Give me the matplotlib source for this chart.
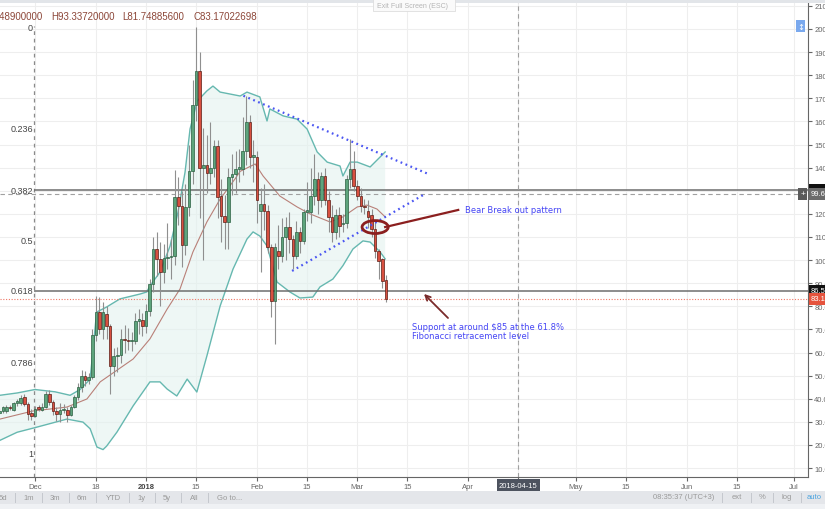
import datetime as dt
import matplotlib
matplotlib.use("Agg")
import matplotlib.pyplot as plt
import matplotlib.dates as mdates
from matplotlib.patches import Ellipse, Rectangle
import numpy as np
import pandas as pd

plt.rcParams['font.family'] = ['Liberation Sans', 'DejaVu Sans']

# daily candles, 2017-11-21 .. 2018-03-09
first_day = "2017-11-21"
opens = [34.0, 34.5, 34.6, 36.5, 35.1, 38.0, 38.1, 40.6, 37.7, 33.7,
         32.6, 36.3, 35.3, 36.3, 42.0, 38.4, 34.8, 33.4, 35.3, 35.3,
         33.1, 36.6, 40.6, 44.9, 50.0, 48.2, 49.2, 67.6, 77.4, 70.2,
         76.7, 71.6, 54.0, 58.6, 58.9, 65.8, 65.5, 65.0, 65.1, 73.8, 74.0,
         71.6, 78.1, 89.6, 104.8, 100.4, 94.7, 100.7, 101.5, 101.6, 127.1,
         123.5, 106.5, 122.8, 138.4, 167.2, 181.9, 139.8, 141.3, 137.7, 139.7,
         149.5, 127.8, 118.9, 116.3, 135.8, 137.3, 139.5, 139.5, 147.4, 159.6, 144.5,
         144.5, 121.4, 124.3, 121.4, 105.6, 82.5, 104.0, 101.9, 109.9, 114.2,
         109.2, 101.9, 112.0, 108.4, 120.7, 120.7, 127.9, 135.1, 125.8, 136.6,
         125.8, 118.5, 112.0, 119.3, 115.5, 116.2, 135.1, 139.5,
         132.2, 127.9, 123.6, 121.4, 119.3, 113.5, 104.1, 100.5, 91.49]
highs = [35.8, 37.0, 37.2, 37.5, 38.8, 40.0, 41.6, 42.0, 38.6, 35.5,
         36.8, 37.2, 38.0, 43.5, 44.0, 39.5, 36.5, 38.0, 37.8, 36.5,
         37.5, 41.5, 47.0, 52.5, 52.0, 51.0, 70.0, 84.5, 84.0, 82.0,
         80.0, 72.5, 62.0, 62.5, 70.0, 72.0, 70.5, 69.0, 77.0, 79.0, 77.0,
         81.0, 92.0, 110.0, 112.0, 108.0, 107.0, 116.0, 109.0, 139.0, 136.0,
         130.0, 133.0, 150.0, 178.0, 200.7, 189.9, 157.0, 154.0, 159.6, 152.0,
         152.0, 135.0, 128.0, 140.0, 146.0, 147.0, 148.0, 162.0, 171.0, 163.0, 152.0,
         147.0, 131.0, 133.0, 124.0, 107.0, 107.5, 115.0, 118.0, 118.5, 121.0,
         111.0, 117.0, 114.5, 122.0, 134.0, 140.0, 146.0, 138.0, 138.0, 140.0,
         130.0, 124.0, 122.0, 123.0, 120.0, 137.0, 152.4, 147.0,
         134.5, 131.0, 126.5, 126.0, 122.0, 117.0, 105.0, 101.0, 93.34]
lows = [33.2, 33.8, 34.0, 35.2, 34.6, 37.0, 37.5, 36.8, 31.0, 30.8,
        32.0, 34.5, 34.6, 35.8, 37.5, 33.0, 30.5, 30.0, 33.8, 30.0,
        32.5, 35.8, 39.5, 43.0, 45.5, 46.5, 48.5, 65.0, 68.0, 66.0,
        66.0, 42.0, 50.0, 51.5, 55.5, 60.0, 61.0, 60.5, 63.5, 68.0, 67.0,
        68.5, 76.0, 86.0, 93.0, 80.0, 90.0, 96.0, 92.0, 98.0, 115.0,
        97.0, 102.0, 119.0, 133.0, 160.0, 118.0, 100.0, 129.0, 133.0, 136.0,
        118.0, 108.0, 105.0, 105.0, 128.0, 129.0, 134.0, 137.0, 141.0, 140.0, 134.0,
        116.0, 95.0, 113.0, 103.0, 75.3, 63.7, 96.0, 99.0, 100.0, 103.0,
        96.0, 100.5, 103.0, 107.0, 117.0, 116.0, 124.0, 120.0, 123.0, 124.0,
        112.0, 108.0, 109.0, 110.0, 112.0, 114.0, 131.0, 130.0,
        126.0, 121.0, 120.0, 114.0, 110.0, 101.0, 92.0, 88.0, 81.75]
closes = [34.9, 36.3, 36.5, 36.0, 38.1, 39.0, 40.2, 37.7, 33.4, 32.6,
          35.4, 35.5, 36.6, 42.0, 38.7, 34.8, 33.4, 35.3, 35.6, 33.1,
          36.6, 40.6, 44.9, 50.0, 48.2, 49.2, 67.6, 77.4, 70.2, 77.4,
          71.6, 54.3, 58.6, 58.9, 65.8, 65.5, 65.0, 65.6, 73.8, 74.3, 71.6,
          78.1, 89.6, 104.8, 100.4, 94.7, 100.7, 101.5, 101.6, 127.1, 123.5,
          106.5, 122.8, 138.4, 167.2, 181.9, 139.8, 141.3, 137.7, 139.7, 149.5,
          127.1, 119.2, 116.3, 135.8, 137.2, 139.5, 140.2, 147.4, 159.6, 144.5, 145.5,
          125.8, 124.3, 121.4, 105.6, 82.5, 105.6, 101.9, 109.9, 114.2, 109.2,
          101.9, 112.0, 108.4, 120.7, 121.5, 127.9, 135.1, 125.8, 136.6, 125.8,
          118.5, 112.0, 119.3, 114.9, 116.2, 135.1, 139.5, 132.2,
          127.9, 123.6, 122.8, 118.5, 113.5, 104.1, 99.8, 91.1, 83.17]

# Bollinger bands (20, 2), days after 2017-12-01
band_base = "2017-12-01"
upper_days = [-9.8, -5, 0, 5.6, 9.8, 12.6, 15.4, 16.3, 17.2, 20, 23.7, 29.3, 31.2, 32.1,
              34.9, 37.7, 39.9, 41.9, 43.3, 45.3, 48, 49.7, 51.7, 57.3, 59.2, 62.8,
              64.8, 65.6, 69.3, 73.2, 76, 78.8, 81.6, 85.2, 86, 88, 90, 93.6, 97.8]
upper_vals = [41.5, 42.5, 44, 43, 41.5, 44, 48.5, 62.8, 77.5, 79.7, 83.2, 85.3, 86.2, 88.8,
              94.8, 106, 120.5, 138, 156.7, 168.8, 173.2, 175.3, 172.7, 171, 172.7, 170.6,
              160.2, 165.4, 162.4, 161, 156.7, 146.8, 142.4, 140.7, 136.4, 142.4, 142.4, 140.3, 146.8]
lower_days = [-9.8, -5, 0, 8.9, 13.4, 15.4, 17.3, 19, 20, 22.9, 27.4, 32.1, 34.9, 36.9,
              39.6, 42.5, 45.2, 48, 51.7, 55.3, 59.2, 60.9, 62.8, 64.8, 67.6, 71.2, 74,
              77.6, 79.6, 83.2, 86, 88.8, 91.6, 93.6, 96.4, 97.8]
lower_vals = [22, 25.5, 27.5, 31.2, 29.9, 27, 19.1, 18, 19.5, 25.6, 36.9, 47.3, 47.3, 44.2,
              41.2, 48.5, 42.9, 58.5, 80.1, 96.1, 109.1, 112.2, 110.4, 106.1, 90.5, 86.2, 83.6,
              84, 88.4, 91.8, 97.6, 104.8, 108.3, 107.8, 103.5, 100.5]
mid_days = [-9.8, -0.6, 8.9, 14.5, 18.2, 27.4, 32.1, 36.9, 40.5, 44.1, 48, 51.7, 55.8,
            57.3, 61.5, 63.7, 68.4, 73.2, 76.8, 82.4, 86, 90, 92.7, 95.5, 97.8]
mid_vals = [31.2, 34.7, 36.4, 39.9, 47.3, 57.2, 65.9, 78.8, 87.5, 103.5, 116.5, 126.4, 135,
            138.4, 141.6, 136.4, 127.7, 123, 120, 116.5, 118.7, 123, 123.8, 122.1, 118.7]

# fibonacci retracement drawn from the Dec 1 low side to the Jan 15 high
fib_high = 200.7
fib_low = 16.2
fib_levels = [0, 0.236, 0.382, 0.5, 0.618, 0.786, 1]
fib_lines = [0.382, 0.618]

# triangle trendlines (day offset, price)
tri_upper = [(58.2, 171.1), (109.8, 137.3)]
tri_lower = [(71.8, 95.3), (108.9, 128.6)]

tick_dates = ["2017-12-01", "2017-12-18", "2018-01-01", "2018-01-15", "2018-02-01",
              "2018-02-15", "2018-03-01", "2018-03-15", "2018-04-01", "2018-04-15",
              "2018-05-01", "2018-05-15", "2018-06-01", "2018-06-15", "2018-07-01"]
tick_labels = ["Dec", "18", "2018", "15", "Feb", "15", "Mar", "15", "Apr", "",
               "May", "15", "Jun", "15", "Jul"]
price_ticks = list(range(10, 220, 10))

W, H = 825, 510
fig = plt.figure(figsize=(W / 100, H / 100), dpi=100)
fig.patch.set_facecolor('white')
ax = fig.add_axes([0, 1 - 478 / H, 808 / W, 478 / H])

base = mdates.date2num(pd.Timestamp(band_base))
dates = pd.date_range(first_day, periods=len(opens), freq="D")
x = mdates.date2num(dates)
o, h, l, c = map(np.array, (opens, highs, lows, closes))

ax.set_xlim(base - 9.78, base + 215.9)
ax.set_ylim(6.14, 212.98)

# grid
tx = mdates.date2num(pd.to_datetime(tick_dates))
for t in tx:
    ax.axvline(t, color='#eeeeee', lw=0.8, zorder=0)
for p in price_ticks:
    ax.axhline(p, color='#eeeeee', lw=0.8, zorder=0)

# bands
ux = base + np.array(upper_days)
lx = base + np.array(lower_days)
ax.fill(np.r_[ux, lx[::-1]], np.r_[upper_vals, lower_vals[::-1]],
        color='#e3f2ef', alpha=0.6, lw=0, zorder=1)
ax.plot(ux, upper_vals, color='#66b8b0', lw=1.0, zorder=2)
ax.plot(lx, lower_vals, color='#66b8b0', lw=1.0, zorder=2)
ax.plot(base + np.array(mid_days), mid_vals, color='#b98078', lw=0.8, zorder=2)

# fib
fib_start = base - 0.3
ax.vlines(fib_start, 6.14, 201.5, colors='#8a8a8a', lw=0.9, linestyles=(0, (3, 3)), zorder=2)
rng = fib_high - fib_low
for lv in fib_levels:
    val = fib_high - lv * rng
    txt = "0" if lv == 0 else ("1" if lv == 1 else f"{lv:g}")
    ax.text(base - 0.6, val, txt, ha='right', va='center', fontsize=6.5, color='#444444', zorder=6)
    if lv in fib_lines:
        ax.hlines(val, fib_start, ax.get_xlim()[1], colors='#6e6e6e', lw=1.1, zorder=2)

# crosshair + last price line
ax.axhline(128.6, color='#a0a0a0', lw=0.8, ls=(0, (4, 3)), zorder=2)
ax.axvline(mdates.date2num(pd.Timestamp("2018-04-15")), color='#a0a0a0', lw=0.8,
           ls=(0, (4, 3)), zorder=2)
ax.axhline(c[-1], color='#ee7766', lw=0.8, ls=(0, (1, 1.5)), zorder=2)

# candles
up = c >= o
ax.vlines(x, l, h, colors='#8f8f8f', lw=0.8, zorder=3)
ax.bar(x[up], (c - o)[up], bottom=o[up], width=0.72, color='#5da47c',
       edgecolor='#2b5f41', lw=0.5, zorder=4)
ax.bar(x[~up], (c - o)[~up], bottom=o[~up], width=0.72, color='#d85040',
       edgecolor='#5b1d15', lw=0.5, zorder=4)

# triangle
for seg in (tri_upper, tri_lower):
    ax.plot([base + seg[0][0], base + seg[1][0]], [seg[0][1], seg[1][1]],
            color='#4a55f2', lw=1.6, ls=(0, (0.8, 1.6)), zorder=5)

# annotations
red = '#8b1f1f'
ax.add_patch(Ellipse((base + 95, 114.3), 7.3, 5.6, fill=False, ec=red, lw=2.0, zorder=6))
ax.plot([base + 118.2, base + 97.8], [121.7, 114.3], color=red, lw=1.6, zorder=6)
ax.text(base + 120.1, 122.1, "Bear Break out pattern", family='DejaVu Sans', fontsize=6,
        color='#4646f5', va='center', ha='left', zorder=6)
ax.annotate("", xy=(base + 108.1, 86.2), xytext=(base + 115.9, 74.1),
            arrowprops=dict(arrowstyle='->', color='#7a2a2a', lw=1.3,
                            mutation_scale=9), zorder=6)
ax.text(base + 105.3, 73.2, "Support at around $85 at the 61.8%\nFibonacci retracement level",
        family='DejaVu Sans', fontsize=6, color='#4646f5', va='top', ha='left',
        linespacing=0.95, zorder=6)

# axes styling
for s in ('top', 'left'):
    ax.spines[s].set_visible(False)
ax.spines['right'].set_color('#666666')
ax.spines['bottom'].set_color('#666666')
ax.yaxis.tick_right()
ax.set_yticks(price_ticks)
ax.set_yticklabels([f"{p:.8f}" for p in price_ticks])
ax.tick_params(axis='y', length=3, pad=1.5, labelsize=5.5, colors='#666666')
ax.set_xticks(tx)
ax.set_xticklabels(tick_labels)
ax.tick_params(axis='x', length=3, pad=1.5, labelsize=5.5, colors='#666666')
for lab in ax.get_xticklabels():
    if lab.get_text() == "2018":
        lab.set_fontweight('bold')
        lab.set_color('#444444')

# price labels on the scale
ytr = ax.get_yaxis_transform()
def scale_label(val, text, fc):
    ax.text(1.0035, val, text, transform=ytr, ha='left', va='center', fontsize=5.5,
            color='white', clip_on=False, zorder=10,
            bbox=dict(boxstyle='square,pad=0.3', fc=fc, ec='none'))

scale_label(fib_high - 0.382 * rng, "130.00000000", '#111111')
scale_label(128.6, "99.60000000", '#6b6b6b')
scale_label(fib_high - 0.618 * rng, "86.50000000", '#111111')
scale_label(c[-1], f"{c[-1]:.8f}"[:4] + "0000000", '#e5533d')
ax.text(0.9935, 128.6, "+", transform=ytr, ha='center', va='center', fontsize=6,
        color='white', zorder=10, bbox=dict(boxstyle='square,pad=0.25', fc='#5a5a5a', ec='none'))
ax.text(mdates.date2num(pd.Timestamp("2018-04-15")), -0.017, "2018-04-15",
        transform=ax.get_xaxis_transform(), ha='center', va='center', fontsize=5.5,
        color='white', clip_on=False, zorder=10,
        bbox=dict(boxstyle='square,pad=0.3', fc='#4d535f', ec='none'))

# window chrome
def fx(px):
    return px / W

def fy(py):
    return 1 - py / H

fig.add_artist(Rectangle((0, fy(4)), 1, 4 / H, transform=fig.transFigure,
                         fc='#e2e5e9', ec='none', zorder=20))
fig.add_artist(Rectangle((fx(373), fy(12)), 82 / W, 12 / H, transform=fig.transFigure,
                         fc='#fafafa', ec='#dddddd', lw=0.6, zorder=21))
fig.text(fx(377), fy(6), "Exit Full Screen (ESC)", fontsize=5, color='#b5b5b5',
         va='center', zorder=22)
fig.add_artist(Rectangle((fx(796), fy(33)), 9 / W, 12 / H, transform=fig.transFigure,
                         fc='#7aa9ee', ec='none', zorder=21))
fig.text(fx(800.5), fy(27), "\u2195", fontsize=6, color='white', ha='center', va='center',
         family='DejaVu Sans', zorder=22)

hdr = '#8c4638'
fig.text(fx(43), fy(17), "O90.48900000", fontsize=7, color=hdr, ha='right', va='center')
fig.text(fx(51), fy(17), "H93.33720000", fontsize=7, color=hdr, va='center')
fig.text(fx(122), fy(17), "L81.74885600", fontsize=7, color=hdr, va='center')
fig.text(fx(193), fy(17), "C83.17022698", fontsize=7, color=hdr, va='center')

fig.add_artist(Rectangle((0, 0), 1, 18 / H, transform=fig.transFigure,
                         fc='#e4e6ea', ec='none', zorder=20))
fig.add_artist(Rectangle((0, 0), 1, 5 / H, transform=fig.transFigure,
                         fc='#eff1f4', ec='none', zorder=20))
left_btns = [("5d", 3), ("1m", 29), ("3m", 55), ("6m", 82), ("YTD", 113),
             ("1y", 142), ("5y", 167), ("All", 194), ("Go to...", 230)]
for name, px in left_btns:
    fig.text(fx(px), fy(499), name, fontsize=5.5, color='#9a9a9a', ha='center',
             va='center', zorder=22)
for px in (15, 42, 69, 96, 129, 155, 181, 208, 742 - 20, 751, 773, 801):
    fig.add_artist(Rectangle((fx(px), fy(504)), 0.7 / W, 10 / H, transform=fig.transFigure,
                             fc='#c5c8ce', ec='none', zorder=21))
for name, px, col in (("08:35:37 (UTC+3)", 684, '#9a9a9a'), ("ext", 737, '#9a9a9a'),
                      ("%", 762, '#9a9a9a'), ("log", 787, '#9a9a9a'), ("auto", 814, '#4aa3df')):
    fig.text(fx(px), fy(498), name, fontsize=5.5, color=col, ha='center', va='center',
             zorder=22)

fig.savefig("out.png", dpi=100)
